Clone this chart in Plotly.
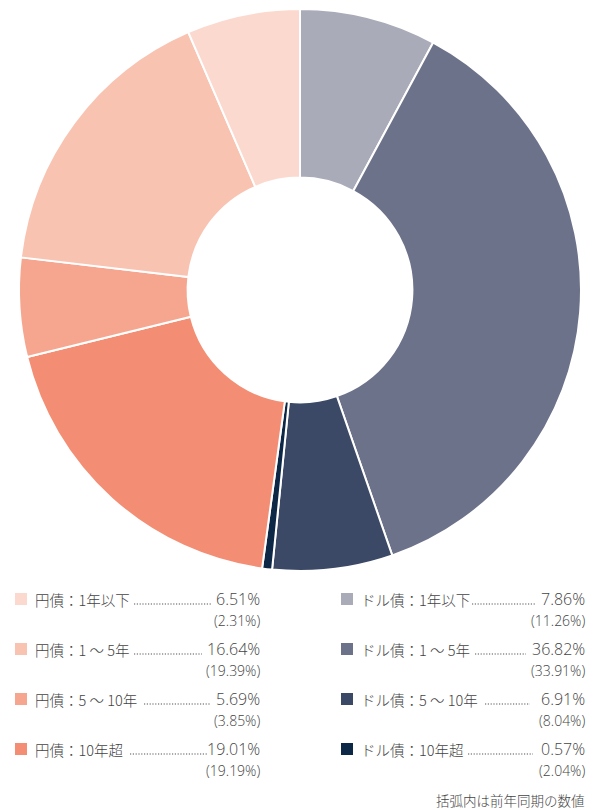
import plotly.graph_objects as go

# Data (legend order)
yen_labels = ["円債：1年以下", "円債：1 ～ 5年", "円債：5 ～ 10年", "円債：10年超"]
yen_values = [6.51, 16.64, 5.69, 19.01]
yen_prev = [2.31, 19.39, 3.85, 19.19]
yen_colors = ["#fcd9ce", "#f9c3b1", "#f6a68f", "#f38e74"]

usd_labels = ["ドル債：1年以下", "ドル債：1 ～ 5年", "ドル債：5 ～ 10年", "ドル債：10年超"]
usd_values = [7.86, 36.82, 6.91, 0.57]
usd_prev = [11.26, 33.91, 8.04, 2.04]
usd_colors = ["#a9abb8", "#6c7289", "#3b4966", "#0d2746"]

footnote = "括弧内は前年同期の数値"

W, H = 600, 810
FONT = "Noto Sans CJK JP, Noto Sans, sans-serif"
NUMFONT = "Open Sans, Noto Sans CJK JP, sans-serif"
TXT = "#444444"

# Pie order: clockwise from 12 o'clock: USD short->long, then Yen long->short
pie_labels = usd_labels + yen_labels[::-1]
pie_values = usd_values + yen_values[::-1]
pie_colors = usd_colors + yen_colors[::-1]

fig = go.Figure()
fig.add_trace(go.Pie(
    labels=pie_labels, values=pie_values, sort=False, direction="clockwise",
    rotation=0, hole=0.40, textinfo="none", hoverinfo="label+percent",
    marker=dict(colors=pie_colors, line=dict(color="white", width=2)),
    domain=dict(x=[19 / W, 581 / W], y=[1 - 571 / H, 1 - 9 / H]),
    showlegend=False,
))

def px(x):
    return x / W

def py(y):
    return 1 - y / H

annotations = []
shapes = []
row_y = [599, 649, 699, 749]
cols = [
    dict(labels=yen_labels, values=yen_values, prev=yen_prev, colors=yen_colors,
         sq=15, lab=33, right=262,
         dots=[(134, 211), (134, 202), (144, 211), (130, 207)]),
    dict(labels=usd_labels, values=usd_values, prev=usd_prev, colors=usd_colors,
         sq=341, lab=359, right=587,
         dots=[(472, 536), (475, 526), (485, 530), (468, 533)]),
]
for c in cols:
    for i, y in enumerate(row_y):
        shapes.append(dict(type="rect", xref="paper", yref="paper",
                           x0=px(c["sq"]), x1=px(c["sq"] + 12),
                           y0=py(y + 6), y1=py(y - 6),
                           fillcolor=c["colors"][i], line=dict(width=0)))
        annotations.append(dict(x=px(c["lab"]), y=py(y), xref="paper", yref="paper",
                                text=c["labels"][i], showarrow=False,
                                xanchor="left", yanchor="middle",
                                font=dict(family=FONT, size=14.5, color=TXT, weight=300)))
        annotations.append(dict(x=px(c["right"]), y=py(y), xref="paper", yref="paper",
                                text=f"{c['values'][i]:.2f}%", showarrow=False,
                                xanchor="right", yanchor="middle",
                                font=dict(family=NUMFONT, size=16, color=TXT, weight=300)))
        annotations.append(dict(x=px(c["right"]), y=py(y + 21), xref="paper", yref="paper",
                                text=f"({c['prev'][i]:.2f}%)", showarrow=False,
                                xanchor="right", yanchor="middle",
                                font=dict(family=NUMFONT, size=14, color=TXT, weight=300)))
        d0, d1 = c["dots"][i]
        shapes.append(dict(type="line", xref="paper", yref="paper",
                           x0=px(d0), x1=px(d1), y0=py(y + 5), y1=py(y + 5),
                           line=dict(color="#555555", width=1.2, dash="1.2px,1.6px")))

annotations.append(dict(x=px(587), y=py(800), xref="paper", yref="paper",
                        text=footnote, showarrow=False, xanchor="right",
                        yanchor="middle", font=dict(family=FONT, size=13.5, color=TXT, weight=300)))

fig.update_layout(
    width=W, height=H, margin=dict(l=0, r=0, t=0, b=0),
    paper_bgcolor="white", plot_bgcolor="white",
    annotations=annotations, shapes=shapes,
)

fig.write_html("out.html", config={"displayModeBar": False},
               post_script="document.body.style.margin='0';")
